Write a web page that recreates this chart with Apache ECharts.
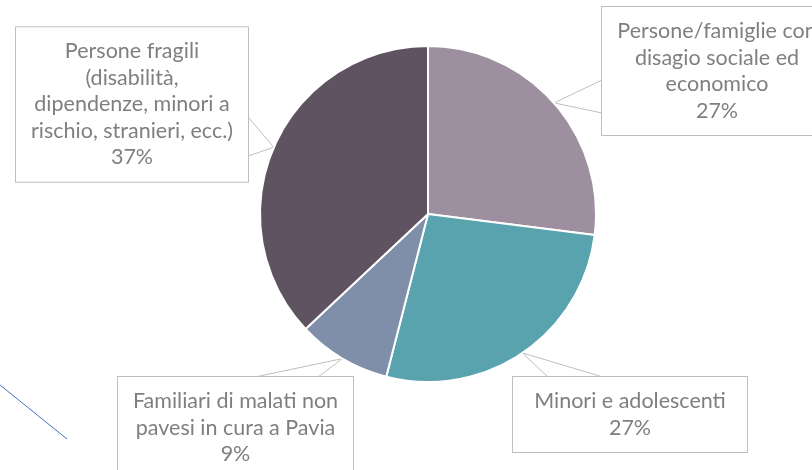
<!DOCTYPE html>
<html>
<head>
<meta charset="utf-8">
<script src="https://cdn.jsdelivr.net/npm/echarts@6/dist/echarts.min.js"></script>
<style>
  html, body { margin: 0; padding: 0; background: #fff; }
  #main { width: 812px; height: 470px; }
</style>
</head>
<body>
<div id="main"></div>
<script>
// dati
var categories = [
    'Persone/famiglie con\ndisagio sociale ed\neconomico',
    'Minori e adolescenti',
    'Familiari di malati non\npavesi in cura a Pavia',
    'Persone fragili\n(disabilità,\ndipendenze, minori a\nrischio, stranieri, ecc.)'
];
var values = [27, 27, 9, 37];
var colors = ['#9E8FA0', '#58A3AE', '#7F8EA9', '#5F5261'];

// posizione dei riquadri delle etichette (centro, larghezza, altezza)
var boxes = [
    { cx: 717, cy: 71, w: 230, h: 128, side: 'left' },
    { cx: 630, cy: 414.5, w: 234, h: 75, side: 'top' },
    { cx: 235.5, cy: 427.75, w: 235, h: 101.5, side: 'top' },
    { cx: 132, cy: 104.5, w: 232, h: 154.5, side: 'right' }
];
// punti d'attacco della freccia sul bordo del riquadro
var bases = [
    [80, 113], [548, 603], [255, 318], [117, 156]
];

var myChart = echarts.init(document.getElementById('main'));

var data = categories.map(function (c, i) {
    return {
        name: c,
        value: values[i],
        itemStyle: { color: colors[i] },
        label: { width: boxes[i].w - 12 }
    };
});

var option = {
    animation: false,
    graphic: [
        {
            type: 'line',
            shape: { x1: 0, y1: 385, x2: 67, y2: 439 },
            style: { stroke: '#4472C4', lineWidth: 1 }
        }
    ],
    series: [
        {
            type: 'pie',
            center: [428, 214],
            radius: 168,
            startAngle: 90,
            clockwise: true,
            itemStyle: { borderColor: '#fff', borderWidth: 2 },
            label: {
                show: true,
                position: 'outside',
                formatter: '{b}\n{d}%',
                fontFamily: 'Lato',
                fontSize: 21.5,
                lineHeight: 26.5,
                color: '#7f7f7f',
                align: 'center',
                overflow: 'none',
                backgroundColor: '#fff',
                borderColor: '#bfbfbf',
                borderWidth: 1,
                padding: [11, 6]
            },
            labelLine: {
                show: true,
                lineStyle: { color: '#bfbfbf', width: 1 }
            },
            labelLayout: function (params) {
                var i = params.dataIndex;
                var b = boxes[i];
                var tip = params.labelLinePoints ? params.labelLinePoints[0] : [b.cx, b.cy];
                var p1, p2;
                if (b.side === 'left') {
                    var x = b.cx - b.w / 2;
                    p1 = [x, bases[i][0]]; p2 = [x, bases[i][1]];
                } else if (b.side === 'right') {
                    var x2 = b.cx + b.w / 2;
                    p1 = [x2, bases[i][0]]; p2 = [x2, bases[i][1]];
                } else {
                    var y = b.cy - b.h / 2;
                    p1 = [bases[i][0], y]; p2 = [bases[i][1], y];
                }
                return {
                    x: b.cx,
                    y: b.cy,
                    align: 'center',
                    verticalAlign: 'middle',
                    labelLinePoints: [p1, tip, p2]
                };
            },
            data: data
        }
    ]
};

myChart.setOption(option);
</script>
</body>
</html>
